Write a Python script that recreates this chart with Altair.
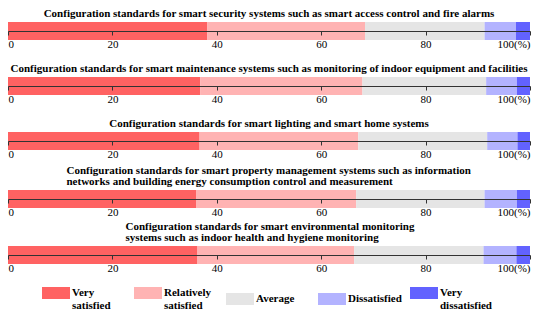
import altair as alt
import pandas as pd

categories = ["Very satisfied", "Relatively satisfied", "Average", "Dissatisfied", "Very dissatisfied"]
colors = ["#FF6262", "#FFB3B3", "#E5E5E5", "#B3B3FF", "#6262FF"]

titles = [
    ["Configuration standards for smart security systems such as smart access control and fire alarms"],
    ["Configuration standards for smart maintenance systems such as monitoring of indoor equipment and facilities"],
    ["Configuration standards for smart lighting and smart home systems"],
    ["Configuration standards for smart property management systems such as information",
     "networks and building energy consumption control and measurement"],
    ["Configuration standards for smart environmental monitoring",
     "systems such as indoor health and hygiene monitoring"],
]

very_satisfied = [38.2, 36.8, 36.7, 36.1, 36.3]
relatively_satisfied = [30.2, 31.1, 30.4, 30.6, 30.0]
average = [22.9, 23.7, 24.7, 24.6, 24.8]
dissatisfied = [6.0, 5.9, 5.8, 6.2, 6.3]
very_dissatisfied = [2.7, 2.5, 2.4, 2.5, 2.6]

tick_values = [0, 20, 40, 60, 80, 100]

series = [very_satisfied, relatively_satisfied, average, dissatisfied, very_dissatisfied]

FONT = "Liberation Serif"
W = 522
H = 18

title_dx = [0, 0, 0, 59, 118]


def panel(i):
    rows = []
    for k, cat in enumerate(categories):
        rows.append({"item": i, "category": cat, "order": k, "value": series[k][i]})
    df = pd.DataFrame(rows)
    multi = len(titles[i]) > 1
    title = alt.Title(
        text=titles[i] if multi else titles[i][0],
        font=FONT, fontSize=11, fontWeight="bold", color="black",
        anchor="start" if multi else "middle",
        align="left" if multi else "center",
        dx=title_dx[i], offset=3, lineHeight=11,
    )
    return alt.Chart(df, title=title).mark_bar(stroke=None).encode(
        x=alt.X("value:Q", stack="zero",
                scale=alt.Scale(domain=[0, 100], nice=False),
                axis=alt.Axis(values=tick_values, title=None, grid=False, offset=-9,
                              tickSize=4, labelPadding=3, zindex=1,
                              labelExpr="datum.value == 100 ? '100(%)' : datum.label")),
        y=alt.Y("item:N", axis=None, scale=alt.Scale(paddingInner=0, paddingOuter=0)),
        color=alt.Color("category:N",
                        scale=alt.Scale(domain=categories, range=colors),
                        legend=alt.Legend(
                            title=None, orient="none", legendX=34, legendY=257,
                            direction="horizontal", columns=5, columnPadding=8,
                            gridAlign="all",
                            symbolType="M-1,-0.43L1,-0.43L1,0.43L-1,0.43Z",
                            symbolSize=784, symbolStrokeWidth=0, symbolOpacity=1,
                            labelFont=FONT, labelFontSize=11, labelFontWeight="bold",
                            labelColor="black", labelOffset=2, labelBaseline="middle",
                            labelLimit=200, padding=0,
                            labelExpr="split(replace(replace(datum.label, 'Very ', 'Very|'), 'Relatively ', 'Relatively|'), '|')",
                        )),
        order=alt.Order("order:Q"),
    ).properties(width=W, height=H)


top = alt.vconcat(panel(0), panel(1), panel(2), spacing=14)
mid = alt.vconcat(top, panel(3), spacing=6)
chart = alt.vconcat(mid, panel(4), spacing=4).properties(
    padding={"left": -1, "top": 0, "right": 0, "bottom": 0}
).configure_axis(
    labelFont=FONT, labelFontSize=11, labelColor="black",
    domainColor="#333333", tickColor="#333333", domainWidth=1, tickWidth=1,
).configure_view(stroke=None)

chart.save("out.html", embed_options={"renderer": "svg", "actions": False})
